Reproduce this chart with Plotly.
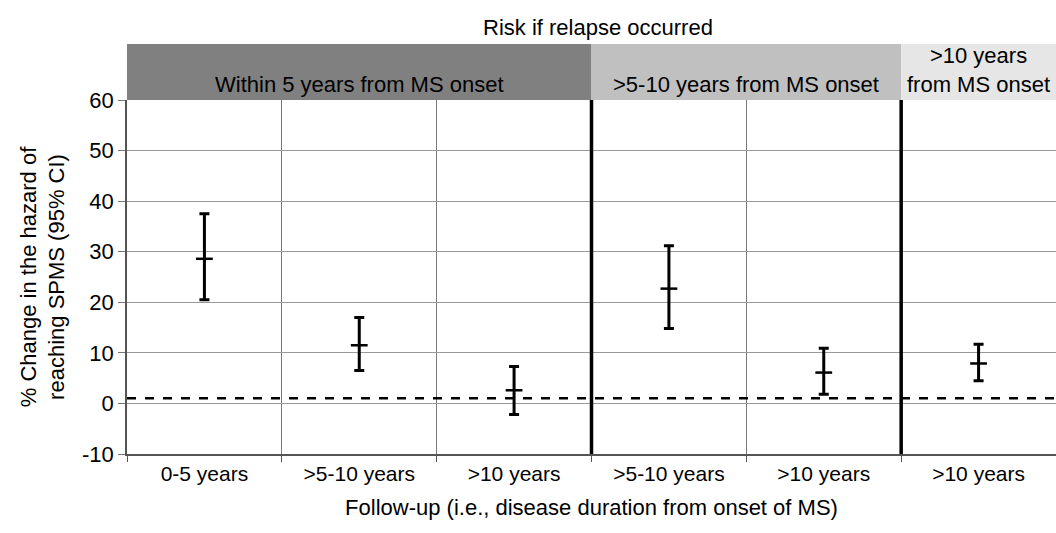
import plotly.graph_objects as go

categories = ["0-5 years", ">5-10 years", ">10 years", ">5-10 years", ">10 years", ">10 years"]
means = [28.6, 11.5, 2.6, 22.7, 6.1, 7.9]
upper = [37.5, 17.0, 7.3, 31.2, 10.9, 11.7]
lower = [20.5, 6.5, -2.2, 14.8, 1.8, 4.5]
groups = ["Within 5 years from MS onset", ">5-10 years from MS onset", ">10 years<br>from MS onset"]
group_spans = [(0, 3), (3, 5), (5, 6)]
group_colors = ["#808080", "#c0c0c0", "#e6e6e6"]
reference_value = 1
y_ticks = [-10, 0, 10, 20, 30, 40, 50, 60]
y_ticktext = ["-10", "0", "10", "20", "30", "40", "50", "60"]

xpos = [i + 0.5 for i in range(len(categories))]
font = "Liberation Sans, Arial, sans-serif"

fig = go.Figure()
fig.add_trace(go.Scatter(
    x=xpos, y=means, mode="markers",
    marker=dict(symbol="line-ew-open", size=12, color="black", line=dict(width=2.5, color="black")),
    error_y=dict(type="data", symmetric=False,
                 array=[u - m for u, m in zip(upper, means)],
                 arrayminus=[m - l for m, l in zip(means, lower)],
                 thickness=3, width=5, color="black"),
    showlegend=False, cliponaxis=False, hoverinfo="skip",
))

shapes = []
shapes.append(dict(type="line", xref="x", yref="y", x0=0, x1=6, y0=reference_value, y1=reference_value,
                   line=dict(color="black", width=2.5, dash="dash"), layer="above"))
for (a, b) in group_spans[:-1]:
    shapes.append(dict(type="line", xref="x", yref="paper", x0=b, x1=b, y0=0, y1=1,
                       line=dict(color="black", width=3.5), layer="above"))
annotations = []
for g, (a, b), c in zip(groups, group_spans, group_colors):
    shapes.append(dict(type="rect", xref="x", yref="paper", x0=a, x1=b, y0=1.0, y1=1.158,
                       fillcolor=c, line=dict(width=0), layer="below"))
    annotations.append(dict(x=(a + b) / 2, y=1.003, xref="x", yref="paper", text=g, showarrow=False,
                            yanchor="bottom", font=dict(family=font, size=22, color="black")))
annotations.append(dict(x=0.507, y=1.165, xref="paper", yref="paper", text="Risk if relapse occurred",
                        showarrow=False, yanchor="bottom", font=dict(family=font, size=22, color="black")))

fig.update_layout(
    width=1056, height=533,
    margin=dict(l=127, r=0, t=100, b=79),
    plot_bgcolor="white", paper_bgcolor="white",
    font=dict(family=font, size=22, color="black"),
    shapes=shapes, annotations=annotations,
    xaxis=dict(range=[0, 6], tickvals=xpos, ticktext=categories, ticks="", showgrid=False,
               showline=True, linecolor="#555", linewidth=1.5, zeroline=False,
               minor=dict(dtick=1, tick0=0, ticks="outside", ticklen=6, tickcolor="#555",
                          showgrid=True, gridcolor="#777", gridwidth=1.2),
               title=dict(text="Follow-up (i.e., disease duration from onset of MS)", standoff=16,
                          font=dict(size=22)),
               tickfont=dict(size=21)),
    yaxis=dict(range=[-10, 60], tickvals=y_ticks, ticktext=y_ticktext, ticks="outside", ticklen=7,
               tickcolor="#777", showline=True, linecolor="#555", linewidth=1.5,
               showgrid=True, gridcolor="#999", gridwidth=1.4, zeroline=False,
               title=dict(text="% Change in the hazard of<br>reaching SPMS (95% CI)", standoff=11,
                          font=dict(size=22)),
               tickfont=dict(size=22)),
)

fig.write_html("out.html", config={"displayModeBar": False},
               post_script="document.body.style.margin='0px';document.body.style.overflow='hidden';")
